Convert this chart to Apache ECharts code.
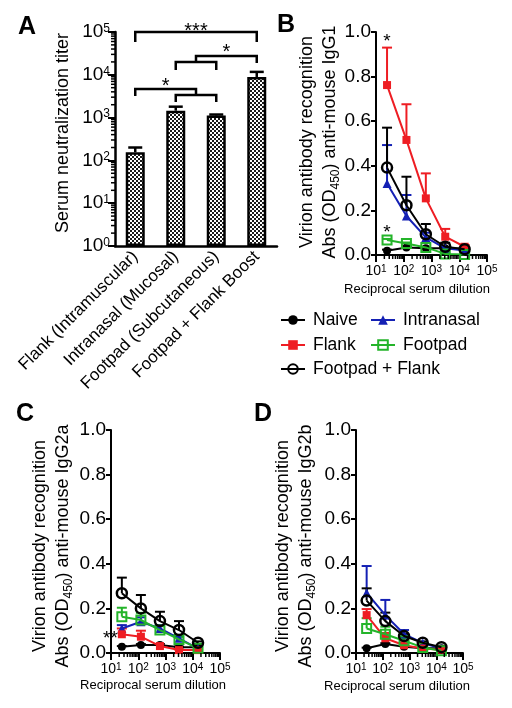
<!DOCTYPE html>
<html><head><meta charset="utf-8">
<script src="https://cdn.jsdelivr.net/npm/echarts@6/dist/echarts.min.js"></script>
<style>html,body{margin:0;padding:0;background:#fff}#c{width:512px;height:708px}</style>
</head><body><div id="c"></div>
<script>
// ---------- Panel A data ----------
const routes = ['Flank (Intramuscular)', 'Intranasal (Mucosal)', 'Footpad (Subcutaneous)', 'Footpad + Flank Boost'];
const titerMean = [155, 1450, 1120, 8900];
const titerUpper = [200, 1800, 1180, 11700];
const titerTicks = [1, 10, 100, 1000, 10000, 100000];
// significance brackets: polylines of [category index, titer]
const bracketPaths = [
  [[0, 58300], [0, 100000], [3, 100000], [3, 58300]],
  [[1, 12900], [1, 19900], [2, 19900], [2, 12900]],
  [[1.5, 19900], [1.5, 27500], [3, 27500], [3, 18900]],
  [[0, 3200], [0, 4660], [1.5, 4660], [1.5, 3370]],
  [[1, 2310], [1, 3370], [2, 3370], [2, 2310]]
];
const bracketText = ['***', '*', '*'];
const bracketTextX = [1.5, 2.25, 0.75];
const bracketTextY = [131000, 43400, 7160];

// ---------- Panels B-D data ----------
const dilutions = [25, 125, 625, 3125, 15625];
const groups = ['Naive', 'Intranasal', 'Flank', 'Footpad', 'Footpad + Flank'];

// B: IgG1
const g1Naive = [0.019, 0.034, 0.030, 0.030, 0.028];
const g1NaiveUp = [0.024, 0.040, 0.034, 0.033, 0.031];
const g1Intranasal = [0.321, 0.175, 0.079, 0.030, 0.020];
const g1IntranasalUp = [0.493, 0.269, 0.100, 0.036, 0.024];
const g1Flank = [0.762, 0.516, 0.254, 0.082, 0.037];
const g1FlankUp = [0.930, 0.676, 0.366, 0.117, 0.045];
const g1Footpad = [0.067, 0.052, 0.034, 0.005, 0.002];
const g1FootpadUp = [0.072, 0.056, 0.037, 0.008, 0.004];
const g1Combo = [0.392, 0.223, 0.093, 0.037, 0.026];
const g1ComboUp = [0.571, 0.351, 0.139, 0.055, 0.030];
const sigBText = ['*', '*'];
const sigBX = [25, 25];
const sigBY = [0.93, 0.072];

// C: IgG2a
const g2aNaive = [0.028, 0.036, 0.036, 0.026, 0.026];
const g2aNaiveUp = [0.031, 0.040, 0.040, 0.029, 0.029];
const g2aIntranasal = [0.110, 0.140, 0.110, 0.066, 0.020];
const g2aIntranasalUp = [0.125, 0.160, 0.125, 0.075, 0.025];
const g2aFlank = [0.084, 0.073, 0.031, 0.013, 0.013];
const g2aFlankUp = [0.110, 0.100, 0.036, 0.016, 0.016];
const g2aFootpad = [0.163, 0.148, 0.103, 0.061, 0.021];
const g2aFootpadUp = [0.203, 0.180, 0.120, 0.070, 0.025];
const g2aCombo = [0.268, 0.200, 0.143, 0.103, 0.046];
const g2aComboUp = [0.338, 0.260, 0.185, 0.143, 0.052];
const sigCText = ['**'];
const sigCX = [25];
const sigCY = [0.084];

// D: IgG2b
const g2bNaive = [0.021, 0.040, 0.028, 0.021, 0.021];
const g2bNaiveUp = [0.024, 0.044, 0.031, 0.024, 0.024];
const g2bIntranasal = [0.270, 0.170, 0.085, 0.045, 0.020];
const g2bIntranasalUp = [0.390, 0.238, 0.103, 0.050, 0.025];
const g2bFlank = [0.170, 0.066, 0.035, 0.020, 0.015];
const g2bFlankUp = [0.197, 0.090, 0.040, 0.024, 0.018];
const g2bFootpad = [0.110, 0.084, 0.055, 0.025, 0.010];
const g2bFootpadUp = [0.156, 0.118, 0.065, 0.030, 0.013];
const g2bCombo = [0.235, 0.143, 0.076, 0.046, 0.026];
const g2bComboUp = [0.290, 0.181, 0.085, 0.052, 0.030];

const odTicks = [0, 0.2, 0.4, 0.6, 0.8, 1.0];
const dilutionTicks = [10, 100, 1000, 10000, 100000];

// ---------- styles ----------
const FONT = '"Liberation Sans", Arial, Helvetica, sans-serif';
const BLUE = '#1420b4', RED = '#ee1d23', GREEN = '#24b42a';
const groupStyle = {
  'Naive': {line: '#000', symbol: 'circle', size: 8, fill: '#000', border: '#000', bw: 0},
  'Intranasal': {line: BLUE, symbol: 'triangle', size: 9, fill: BLUE, border: BLUE, bw: 0},
  'Flank': {line: RED, symbol: 'rect', size: 8, fill: RED, border: RED, bw: 0},
  'Footpad': {line: GREEN, symbol: 'rect', size: 9, fill: 'rgba(255,255,255,0)', border: GREEN, bw: 2},
  'Footpad + Flank': {line: '#000', symbol: 'circle', size: 10, fill: 'rgba(255,255,255,0)', border: '#000', bw: 2.5}
};

const panels = [
  {means: [g1Naive, g1Intranasal, g1Flank, g1Footpad, g1Combo], ups: [g1NaiveUp, g1IntranasalUp, g1FlankUp, g1FootpadUp, g1ComboUp],
   sig: [sigBText, sigBX, sigBY], sigMode: 'above'},
  {means: [g2aNaive, g2aIntranasal, g2aFlank, g2aFootpad, g2aCombo], ups: [g2aNaiveUp, g2aIntranasalUp, g2aFlankUp, g2aFootpadUp, g2aComboUp],
   sig: [sigCText, sigCX, sigCY], sigMode: 'left'},
  {means: [g2bNaive, g2bIntranasal, g2bFlank, g2bFootpad, g2bCombo], ups: [g2bNaiveUp, g2bIntranasalUp, g2bFlankUp, g2bFootpadUp, g2bComboUp],
   sig: null}
];

// checker pattern for bars
const pat = document.createElement('canvas');
pat.width = 4; pat.height = 4;
(function () {
  const ctx = pat.getContext('2d');
  ctx.fillStyle = '#fff'; ctx.fillRect(0, 0, 4, 4);
  ctx.fillStyle = '#1a1a1a'; ctx.fillRect(0, 0, 2, 2); ctx.fillRect(2, 2, 2, 2);
})();

const supRich = (big, small) => ({
  b: {fontSize: big, fontFamily: FONT, color: '#000'},
  s: {fontSize: small, fontFamily: FONT, color: '#000', verticalAlign: 'top'}
});
const powLabel = v => '{b|10}{s|' + Math.round(Math.log10(v)) + '}';

const grids = [
  {left: 115, top: 32, width: 162, height: 214},
  {left: 376, top: 32, width: 111, height: 223},
  {left: 111, top: 430, width: 109, height: 223},
  {left: 356, top: 430, width: 107, height: 223}
];

const xAxes = [{
  type: 'category', gridIndex: 0, data: routes,
  axisLine: {lineStyle: {color: '#000', width: 2.5}},
  axisTick: {alignWithLabel: true, length: 6, lineStyle: {color: '#000', width: 2}},
  axisLabel: {rotate: 45, interval: 0, fontSize: 17, fontFamily: FONT, color: '#000', margin: 8},
  splitLine: {show: false}
}];
const yAxes = [{
  type: 'log', logBase: 10, gridIndex: 0, min: titerTicks[0], max: titerTicks[titerTicks.length - 1],
  axisLine: {show: true, lineStyle: {color: '#000', width: 2.5}},
  axisTick: {show: true, length: 7, lineStyle: {color: '#000', width: 2}},
  axisLabel: {formatter: powLabel, rich: supRich(19, 12), margin: 5, showMinLabel: true, showMaxLabel: true},
  splitLine: {show: false}
}];
for (let g = 1; g <= 3; g++) {
  xAxes.push({
    type: 'log', logBase: 10, gridIndex: g, min: dilutionTicks[0], max: dilutionTicks[dilutionTicks.length - 1],
    axisLine: {onZero: false, lineStyle: {color: '#000', width: 2}},
    axisTick: {show: true, length: 7, lineStyle: {color: '#000', width: 2}},
    axisLabel: {formatter: powLabel, rich: supRich(14, 10), margin: 9, showMinLabel: true, showMaxLabel: true},
    splitLine: {show: false}
  });
  yAxes.push({
    type: 'value', gridIndex: g, min: odTicks[0], max: odTicks[odTicks.length - 1], interval: 0.2,
    axisLine: {show: true, lineStyle: {color: '#000', width: 2}},
    axisTick: {show: true, length: 5, lineStyle: {color: '#000', width: 2}},
    axisLabel: {formatter: v => v.toFixed(1), fontSize: 19, fontFamily: FONT, color: '#000', margin: 5},
    splitLine: {show: false}
  });
}

const series = [];
// panel A bars
series.push({
  type: 'bar', name: 'titer', xAxisIndex: 0, yAxisIndex: 0, data: titerMean, barWidth: 19, z: 3,
  itemStyle: {color: {image: pat, repeat: 'repeat'}, borderColor: '#000', borderWidth: 2.5},
  silent: true
});
series.push({
  type: 'custom', name: 'titerErr', xAxisIndex: 0, yAxisIndex: 0, z: 2, silent: true,
  data: titerMean.map((m, i) => [i, m, titerUpper[i]]),
  encode: {x: 0, y: [1, 2]},
  renderItem: (params, api) => {
    const p0 = api.coord([api.value(0), api.value(1)]);
    const p1 = api.coord([api.value(0), api.value(2)]);
    return {type: 'group', children: [
      {type: 'line', shape: {x1: p0[0], y1: p0[1], x2: p1[0], y2: p1[1]}, style: {stroke: '#000', lineWidth: 2.5}},
      {type: 'line', shape: {x1: p1[0] - 7, y1: p1[1], x2: p1[0] + 7, y2: p1[1]}, style: {stroke: '#000', lineWidth: 2.5}}
    ]};
  }
});
// brackets
series.push({
  type: 'custom', name: 'brackets', xAxisIndex: 0, yAxisIndex: 0, z: 4, silent: true, clip: false,
  data: bracketPaths.map((p, i) => [i, p[1][1]]),
  renderItem: (params, api) => {
    const path = bracketPaths[params.dataIndex];
    const xpix = ci => {
      const a = Math.floor(ci), b = Math.ceil(ci);
      const xa = api.coord([a, 10])[0], xb = api.coord([b, 10])[0];
      return xa + (xb - xa) * (ci - a);
    };
    const pts = path.map(p => [xpix(p[0]), api.coord([0, p[1]])[1]]);
    return {type: 'polyline', shape: {points: pts}, style: {stroke: '#000', lineWidth: 2.5, fill: null}};
  }
});
series.push({
  type: 'custom', name: 'bracketText', xAxisIndex: 0, yAxisIndex: 0, z: 4, silent: true, clip: false,
  data: bracketText.map((t, i) => [i, bracketTextY[i]]),
  renderItem: (params, api) => {
    const i = params.dataIndex, ci = bracketTextX[i];
    const a = Math.floor(ci), b = Math.ceil(ci);
    const xa = api.coord([a, 10])[0], xb = api.coord([b, 10])[0];
    const x = xa + (xb - xa) * (ci - a);
    const y = api.coord([0, bracketTextY[i]])[1];
    return {type: 'text', x: x, y: y + 5, style: {text: bracketText[i], fontSize: 20, fontFamily: FONT, fill: '#000', align: 'center', verticalAlign: 'middle'}};
  }
});
// minor ticks panel A (y axis)
const minorA = [];
for (let e = 0; e < 5; e++) for (let k = 2; k <= 9; k++) minorA.push(k * Math.pow(10, e));
series.push({
  type: 'custom', name: 'minorA', xAxisIndex: 0, yAxisIndex: 0, z: 5, silent: true, clip: false,
  data: minorA.map(v => [0, v]),
  renderItem: (params, api) => {
    const y = api.coord([0, api.value(1)])[1];
    const x = params.coordSys.x;
    return {type: 'line', shape: {x1: x - 4, y1: y, x2: x, y2: y}, style: {stroke: '#000', lineWidth: 1.5}};
  }
});

// panels B-D
const minorX = [];
for (let e = 1; e < 5; e++) for (let k = 2; k <= 9; k++) minorX.push(k * Math.pow(10, e));
panels.forEach((pn, pi) => {
  const ai = pi + 1;
  groups.forEach((gname, gi) => {
    const st = groupStyle[gname];
    series.push({
      type: 'line', name: gname, xAxisIndex: ai, yAxisIndex: ai, z: 3 + gi * 0.1,
      data: dilutions.map((d, i) => [d, pn.means[gi][i]]),
      symbol: st.symbol, symbolSize: st.size, showAllSymbol: true,
      lineStyle: {color: st.line, width: 2},
      itemStyle: {color: st.fill, borderColor: st.border, borderWidth: st.bw},
      emphasis: {disabled: true}
    });
  });
});
panels.forEach((pn, pi) => {
  const ai = pi + 1;
  groups.forEach((gname, gi) => {
    const st = groupStyle[gname];
    series.push({
      type: 'custom', name: gname, xAxisIndex: ai, yAxisIndex: ai, z: 2, silent: true,
      data: dilutions.map((d, i) => [d, pn.means[gi][i], pn.ups[gi][i]]),
      encode: {x: 0, y: [1, 2]},
      renderItem: (params, api) => {
        const p0 = api.coord([api.value(0), api.value(1)]);
        const p1 = api.coord([api.value(0), api.value(2)]);
        return {type: 'group', children: [
          {type: 'line', shape: {x1: p0[0], y1: p0[1], x2: p1[0], y2: p1[1]}, style: {stroke: st.line, lineWidth: 2}},
          {type: 'line', shape: {x1: p1[0] - 5, y1: p1[1], x2: p1[0] + 5, y2: p1[1]}, style: {stroke: st.line, lineWidth: 2}}
        ]};
      }
    });
  });
  series.push({
    type: 'custom', name: 'minorX' + ai, xAxisIndex: ai, yAxisIndex: ai, z: 5, silent: true, clip: false,
    data: minorX.map(v => [v, 0]),
    renderItem: (params, api) => {
      const x = api.coord([api.value(0), 0])[0];
      const y = params.coordSys.y + params.coordSys.height;
      return {type: 'line', shape: {x1: x, y1: y, x2: x, y2: y + 4}, style: {stroke: '#000', lineWidth: 1.5}};
    }
  });
  if (pn.sig) {
    const [txt, xs, ys] = pn.sig;
    series.push({
      type: 'custom', name: 'sig' + ai, xAxisIndex: ai, yAxisIndex: ai, z: 6, silent: true, clip: false,
      data: xs.map((x, i) => [x, ys[i]]),
      renderItem: (params, api) => {
        const p = api.coord([api.value(0), api.value(1)]);
        const t = txt[params.dataIndex];
        if (pn.sigMode === 'above') {
          return {type: 'text', x: p[0], y: p[1] - 6, style: {text: t, fontSize: 19, fontFamily: FONT, fill: '#000', align: 'center', verticalAlign: 'middle'}};
        }
        return {type: 'text', x: p[0] - 4, y: p[1] + 4, style: {text: t, fontSize: 19, fontFamily: FONT, fill: '#000', align: 'right', verticalAlign: 'middle'}};
      }
    });
  }
});

const legendBase = {itemWidth: 24, itemHeight: 12, itemGap: 0, padding: 0, selectedMode: false,
  textStyle: {fontSize: 17.5, fontFamily: FONT, color: '#000', padding: [0, 0, 0, 3]}};
const legendPos = [[280, 311], [370, 311], [280, 336], [370, 336], [280, 360]];
const legendOrder = ['Naive', 'Intranasal', 'Flank', 'Footpad', 'Footpad + Flank'];
const legends = legendOrder.map((n, i) => Object.assign({}, legendBase, {data: [n], left: legendPos[i][0], top: legendPos[i][1]}));

const titleRich = {sub: {fontSize: 12, fontFamily: FONT, verticalAlign: 'bottom', fill: '#000'}};
const mkTitle = (text, x, y) => ({type: 'text', x: x, y: y, rotation: Math.PI / 2,
  style: {text: text, rich: titleRich, fontSize: 18, fontFamily: FONT, fill: '#000', align: 'center', verticalAlign: 'middle', lineHeight: 23}});
const mkLetter = (t, x, y) => ({type: 'text', x: x, y: y, style: {text: t, fontSize: 25, fontWeight: 'bold', fontFamily: FONT, fill: '#000', align: 'center', verticalAlign: 'middle'}});
const mkX = (x, y) => ({type: 'text', x: x, y: y, style: {text: 'Reciprocal serum dilution', fontSize: 13, fontFamily: FONT, fill: '#000', align: 'center', verticalAlign: 'middle'}});

const option = {
  animation: false,
  backgroundColor: '#fff',
  textStyle: {fontFamily: FONT},
  grid: grids,
  xAxis: xAxes,
  yAxis: yAxes,
  legend: legends,
  series: series,
  graphic: [
    mkLetter('A', 27, 27), mkLetter('B', 286, 25), mkLetter('C', 25, 414), mkLetter('D', 263, 414),
    mkTitle('Serum neutralization titer', 63, 133),
    mkTitle('Virion antibody recognition\nAbs (OD{sub|450}) anti-mouse IgG1', 319, 142),
    mkTitle('Virion antibody recognition\nAbs (OD{sub|450}) anti-mouse IgG2a', 52, 546),
    mkTitle('Virion antibody recognition\nAbs (OD{sub|450}) anti-mouse IgG2b', 295, 546),
    mkX(417, 289), mkX(153, 685), mkX(397, 686)
  ]
};
const chart = echarts.init(document.getElementById('c'), null, {renderer: 'canvas'});
chart.setOption(option);
</script></body></html>
